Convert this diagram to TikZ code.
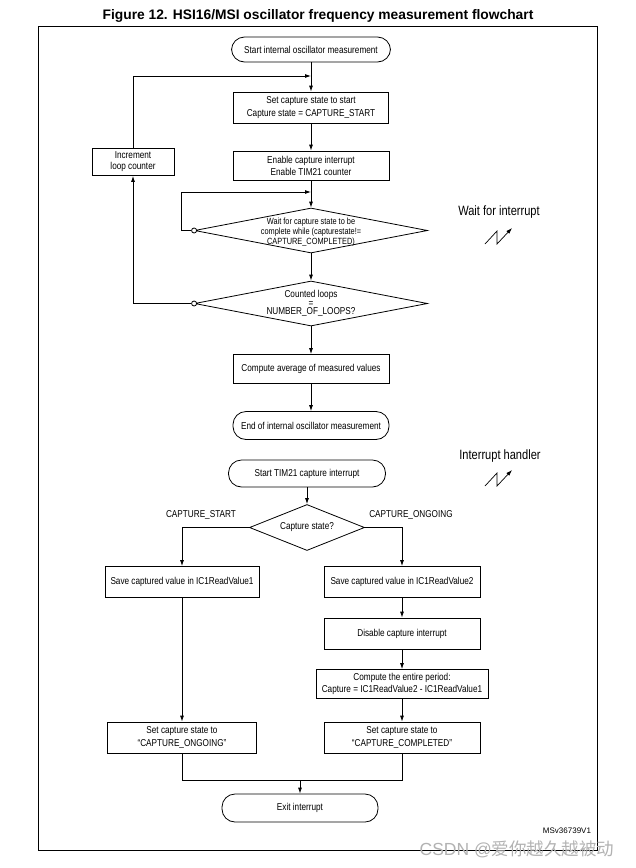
\documentclass[tikz,border=0pt]{standalone}
\usepackage{fontspec}
\setmainfont{Liberation Sans}
\newfontfamily\narrowfont[FakeStretch=0.82]{Liberation Sans}
\newfontfamily\cjkfont{Noto Sans CJK SC}
\usetikzlibrary{arrows.meta, shapes.geometric}
\tikzset{terminal/.style = {shape = rectangle, draw, rounded corners = 13pt, minimum width = 156pt, minimum height = 27pt, inner sep = 0pt, font = \narrowfont\fontsize{10}{13}\selectfont}}
\tikzset{process/.style = {shape = rectangle, draw, minimum width = 156pt, minimum height = 30pt, inner sep = 0pt, align = center, font = \narrowfont\fontsize{10}{13}\selectfont}}
\tikzset{decision/.style = {shape = diamond, draw, inner sep = 0pt}}
\tikzset{question/.style = {align = center, inner sep = 0pt, font = \narrowfont\fontsize{10}{10}\selectfont}}
\tikzset{tap/.style = {shape = circle, draw, fill = white, inner sep = 0pt, minimum size = 5pt}}
\tikzset{flow/.style = {->, > = {Latex[length = 6pt, width = 4pt]}}}
\tikzset{caption/.style = {inner sep = 0pt, font = \narrowfont\fontsize{13.5}{15}\selectfont}}
\tikzset{branch/.style = {inner sep = 0pt, font = \narrowfont\fontsize{10}{12}\selectfont}}

\begin{document}
\begin{tikzpicture}[x = 1pt, y = -1pt, line width = 0.8pt]
				\useasboundingbox (0, 0) rectangle (636, 868);
				\node[font = \bfseries\fontsize{13.8}{16}\selectfont] (title) at (318, 16) {Figure 12. HSI16/MSI oscillator frequency measurement flowchart};
				\draw (38, 26) rectangle (597, 850);

				% main loop
				\node[terminal, minimum width = 159pt, minimum height = 25pt] (start) at (311, 49.5) {Start internal oscillator measurement};
				\node[process, minimum width = 155pt, minimum height = 31pt] (setstart) at (311, 107.5) {Set capture state to start\\Capture state = CAPTURE\_START};
				\node[process, minimum width = 156pt, minimum height = 29pt, font = \narrowfont\fontsize{10}{12}\selectfont] (enable) at (311, 165.5) {Enable capture interrupt\\Enable TIM21 counter};
				\node[process, minimum width = 82pt, minimum height = 27pt, font = \narrowfont\fontsize{10}{11}\selectfont] (incr) at (133, 162) {Increment\\loop counter};
				\node[decision, minimum width = 233pt, minimum height = 45pt] (wait) at (311, 230.5) {};
				\node[question, font = \narrowfont\fontsize{9}{10}\selectfont] (waittext) at (311, 232) {Wait for capture state to be\\complete while (capturestate!=\\CAPTURE\_COMPLETED)};
				\node[decision, minimum width = 233pt, minimum height = 45pt] (count) at (311, 303.5) {};
				\node[question, font = \narrowfont\fontsize{10}{8.5}\selectfont] (counttext) at (count) {Counted loops\\=\\NUMBER\_OF\_LOOPS?};
				\node[process, minimum width = 156pt, minimum height = 29pt] (average) at (311, 369) {Compute average of measured values};
				\node[terminal, minimum height = 28pt] (stop) at (311, 425.5) {End of internal oscillator measurement};
				\node[tap] (waittap) at (wait.west) {};
				\node[tap] (counttap) at (count.west) {};
				\coordinate (back) at (311, 76);
				\coordinate (again) at (311, 192);
				\coordinate (againcorner) at (181, 192);

				\draw[flow] (start) -- (setstart);
				\draw[flow] (setstart) -- (enable);
				\draw[flow] (enable) -- (wait);
				\draw[flow] (wait) -- (count);
				\draw[flow] (count) -- (average);
				\draw[flow] (average) -- (stop);
				\draw[flow] (waittap.west) -| (againcorner) -- (again);
				\draw[flow] (counttap.west) -| (incr.south);
				\draw[flow] (incr.north) |- (back);

				\node[caption] (waitlabel) at (499, 212) {Wait for interrupt};
				\node[caption] (handlerlabel) at (500, 456) {Interrupt handler};
				\foreach \y in {236, 478}
					\draw[flow, line width = 0.7pt] (485, \y + 8) -- (497, \y - 5) -- (497, \y + 8) -- (512, \y - 8);

				% interrupt handler
				\node[terminal, minimum width = 157pt] (isr) at (307, 473.5) {Start TIM21 capture interrupt};
				\node[decision, minimum width = 115pt, minimum height = 46pt] (state) at (307, 527.5) {};
				\node[question] (statetext) at (state) {Capture state?};
				\node[branch] (startlabel) at (201, 515) {CAPTURE\_START};
				\node[branch] (ongoinglabel) at (411, 515) {CAPTURE\_ONGOING};
				\node[process, minimum width = 154pt, minimum height = 31pt] (save1) at (182, 582) {Save captured value in IC1ReadValue1};
				\node[process, minimum height = 31pt] (save2) at (402, 582) {Save captured value in IC1ReadValue2};
				\node[process, minimum height = 31pt] (disable) at (402, 633.5) {Disable capture interrupt};
				\node[process, minimum width = 172pt, minimum height = 29pt, font = \narrowfont\fontsize{10}{12}\selectfont] (period) at (402, 684) {Compute the entire period:\\Capture = IC1ReadValue2 - IC1ReadValue1};
				\node[process, minimum width = 149pt, minimum height = 31pt] (ongoing) at (182, 737.5) {Set capture state to\\“CAPTURE\_ONGOING”};
				\node[process, minimum height = 31pt] (completed) at (402, 737.5) {Set capture state to\\“CAPTURE\_COMPLETED”};
				\node[terminal, minimum height = 28pt] (exit) at (300, 808) {Exit interrupt};
				\coordinate (merge) at (300, 780);

				\draw[flow] (isr) -- (state);
				\draw[flow] (state.west) -| (save1.north);
				\draw[flow] (state.east) -| (save2.north);
				\draw[flow] (save1) -- (ongoing);
				\draw[flow] (save2) -- (disable);
				\draw[flow] (disable) -- (period);
				\draw[flow] (period) -- (completed);
				\draw (ongoing.south) |- (merge) -| (completed.south);
				\draw[flow] (merge) -- (exit);

				\node[font = \fontsize{8}{9}\selectfont] (ref) at (567, 831) {MSv36739V1};
				\node[text = gray!60, font = \fontsize{17.5}{18}\selectfont] (mark) at (517, 849) {CSDN @{\cjkfont 爱你越久越被动}};
			\end{tikzpicture}
\end{document}
